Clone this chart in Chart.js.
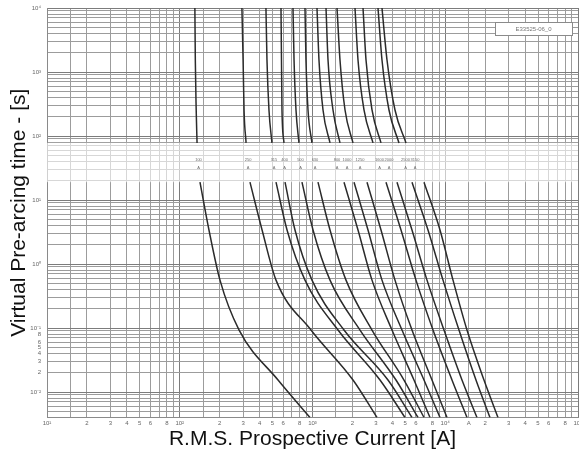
<!DOCTYPE html>
<html>
<head>
<meta charset="utf-8">
<title>Fuse time-current characteristics</title>
<script src="https://cdn.jsdelivr.net/npm/chart.js@4.4.1/dist/chart.umd.min.js"></script>
<style>
  html, body { margin: 0; padding: 0; background: #fff; }
  #wrap { width: 579px; height: 455px; }
</style>
</head>
<body>
<div id="wrap"><canvas id="chartForFuse" width="579" height="455"></canvas></div>
<script>
// times (s) at which each curve was read, above and below the label band
var timesUpper = [10000, 1540, 255, 78];
var timesLower = [19, 3.4, 0.56, 0.093, 0.0154, 0.004];

// prospective current (A) of each curve at those times
var curve01 = [130, 131, 133, 135, 142, 166, 201, 280, 550, 958];
var curve02 = [294, 300, 305, 316, 338, 417, 531, 974, 2019, 3061];
var curve03 = [446, 454, 470, 495, 531, 643, 878, 1557, 3225, 4976];
var curve04 = [579, 584, 589, 610, 621, 738, 991, 1727, 3704, 5617];
var curve05 = [713, 726, 751, 791, 833, 1009, 1355, 2280, 4256, 6235];
var curve06 = [878, 893, 925, 991, 1100, 1355, 1788, 2807, 4890, 6917];
var curve07 = [1081, 1119, 1200, 1355, 1727, 2202, 2807, 3970, 5815, 7676];
var curve08 = [1264, 1309, 1427, 1611, 2055, 2619, 3338, 4723, 6917, 9129];
var curve09 = [1530, 1611, 1758, 2019, 2574, 3281, 4182, 5617, 7947, 10310];
var curve10 = [2090, 2202, 2443, 2856, 3578, 4642, 6020, 8086, 11240, 14580];
var curve11 = [2402, 2530, 2807, 3281, 4330, 5617, 7287, 9785, 13370, 17340];
var curve12 = [3115, 3338, 3769, 4483, 5617, 7415, 9618, 12690, 17040, 21730];
var curve13 = [3338, 3641, 4182, 5063, 6917, 9129, 11440, 14580, 19580, 24970];

var curves = [curve01, curve02, curve03, curve04, curve05, curve06, curve07,
  curve08, curve09, curve10, curve11, curve12, curve13];
var ratings = ['100', '250', '315', '400', '500', '630', '800', '1000',
  '1250', '1600', '2000', '2500', '3150'];

// tick labels
var xLabelValues = [10, 20, 30, 40, 50, 60, 80, 100, 200, 300, 400, 500, 600, 800,
  1000, 2000, 3000, 4000, 5000, 6000, 8000, 10000, 15000, 20000, 30000, 40000,
  50000, 60000, 80000, 100000];
var xLabelTexts = ['10\u00b9', '2', '3', '4', '5', '6', '8', '10\u00b2', '2', '3', '4', '5', '6', '8',
  '10\u00b3', '2', '3', '4', '5', '6', '8', '10\u2074', 'A', '2', '3', '4',
  '5', '6', '8', '10\u2075'];
var yLabelValues = [10000, 1000, 100, 10, 1, 0.1, 0.08, 0.06, 0.05, 0.04, 0.03, 0.02, 0.01];
var yLabelTexts = ['10\u2074', '10\u00b3', '10\u00b2', '10\u00b9', '10\u2070', '10\u207b\u00b9',
  '8', '6', '5', '4', '3', '2', '10\u207b\u00b2'];

var xSteps = [1, 1.5, 2, 3, 4, 5, 6, 7, 8, 9];
var ySteps = [1, 2, 3, 4, 5, 6, 7, 8, 9];
var docNumber = 'E33525-06_0';

var xMin = 10, xMax = 100000, yMin = 0.004, yMax = 10000;

function gridValues(steps, min, max) {
  var out = [];
  for (var e = -4; e <= 5; e++) {
    for (var i = 0; i < steps.length; i++) {
      var v = e < 0 ? steps[i] / Math.pow(10, -e) : steps[i] * Math.pow(10, e);
      if (v >= min * 0.9999 && v <= max * 1.0001) out.push(v);
    }
  }
  return out;
}

function findLabel(values, texts, v) {
  for (var i = 0; i < values.length; i++) {
    if (Math.abs(values[i] - v) / v < 1e-6) return texts[i];
  }
  return '';
}

function isDecade(v) {
  var l = Math.log10(v);
  return Math.abs(l - Math.round(l)) < 1e-6;
}

var datasets = [];
for (var c = 0; c < curves.length; c++) {
  var pts = [];
  for (var i = 0; i < timesUpper.length; i++) {
    pts.push({ x: curves[c][i], y: timesUpper[i] });
  }
  // gap for the label band
  pts.push({ x: curves[c][timesUpper.length], y: null });
  for (var j = 0; j < timesLower.length; j++) {
    pts.push({ x: curves[c][timesUpper.length + j], y: timesLower[j] });
  }
  datasets.push({
    label: ratings[c],
    data: pts,
    borderColor: '#2b2b2b',
    borderWidth: 1.5,
    pointRadius: 0,
    fill: false,
    spanGaps: false,
    cubicInterpolationMode: 'monotone'
  });
}

var gridColor = function (ctx) {
  return ctx.tick && isDecade(ctx.tick.value) ? '#7c7c7c' : '#9c9c9c';
};

var bandPlugin = {
  id: 'band',
  beforeDatasetsDraw: function (chart) {
    var ctx = chart.ctx;
    var area = chart.chartArea;
    var top = chart.scales.y.getPixelForValue(timesUpper[timesUpper.length - 1]);
    var bottom = chart.scales.y.getPixelForValue(timesLower[0]);
    ctx.save();
    ctx.fillStyle = 'rgba(255,255,255,0.6)';
    ctx.fillRect(area.left, top, area.right - area.left, bottom - top);
    ctx.restore();
  },
  afterDatasetsDraw: function (chart) {
    var ctx = chart.ctx;
    var area = chart.chartArea;
    var xs = chart.scales.x;
    var ys = chart.scales.y;
    var n = timesUpper.length;

    // 繪製額定電流標籤
    ctx.save();
    ctx.fillStyle = '#6a6a6a';
    ctx.font = '4px "Liberation Sans", Arial, sans-serif';
    ctx.textAlign = 'center';
    ctx.textBaseline = 'middle';
    for (var c = 0; c < curves.length; c++) {
      var x = xs.getPixelForValue(Math.sqrt(curves[c][n - 1] * curves[c][n]));
      ctx.fillText(ratings[c], x, ys.getPixelForValue(42));
      ctx.fillText('A', x, ys.getPixelForValue(32));
    }

    // document number box
    var bw = 77, bh = 13;
    var bx = area.right - 83, by = area.top + 14;
    ctx.fillStyle = '#fff';
    ctx.fillRect(bx, by, bw, bh);
    ctx.strokeStyle = '#8a8a8a';
    ctx.lineWidth = 1;
    ctx.strokeRect(bx + 0.5, by + 0.5, bw, bh);
    ctx.fillStyle = '#777';
    ctx.font = '6px "Liberation Sans", Arial, sans-serif';
    ctx.fillText(docNumber, bx + bw / 2, by + bh / 2 + 0.5);
    ctx.restore();
  }
};

var ctx = document.getElementById('chartForFuse');
var chart = new Chart(ctx, {
  type: 'line',
  data: { datasets: datasets },
  plugins: [bandPlugin],
  options: {
    responsive: false,
    animation: false,
    devicePixelRatio: 1,
    layout: { padding: { top: 8, right: 1, left: 0, bottom: 0 } },
    plugins: {
      legend: { display: false },
      tooltip: { enabled: false }
    },
    scales: {
      x: {
        type: 'logarithmic',
        min: xMin,
        max: xMax,
        afterBuildTicks: function (scale) {
          scale.ticks = gridValues(xSteps, xMin, xMax).map(function (v) {
            return { value: v };
          });
        },
        afterFit: function (scale) {
          scale.height = 37.5;
          scale.paddingLeft = 0;
          scale.paddingRight = 0;
        },
        grid: { color: gridColor, lineWidth: 1, drawTicks: false },
        border: { color: '#8a8a8a' },
        ticks: {
          autoSkip: false,
          maxRotation: 0,
          padding: 2,
          color: '#666',
          font: { size: 6, family: '"Liberation Sans", Arial, sans-serif' },
          callback: function (value) {
            return findLabel(xLabelValues, xLabelTexts, value);
          }
        },
        title: {
          display: true,
          text: 'R.M.S. Prospective Current [A]',
          color: '#111',
          font: { size: 21, family: '"Liberation Sans", Arial, sans-serif' },
          padding: { top: 0, bottom: 3 }
        }
      },
      y: {
        type: 'logarithmic',
        min: yMin,
        max: yMax,
        afterBuildTicks: function (scale) {
          scale.ticks = gridValues(ySteps, yMin, yMax).map(function (v) {
            return { value: v };
          });
        },
        afterFit: function (scale) {
          scale.width = 47;
          scale.paddingTop = 0;
          scale.paddingBottom = 0;
        },
        grid: { color: gridColor, lineWidth: 1, drawTicks: false },
        border: { color: '#8a8a8a' },
        ticks: {
          autoSkip: false,
          padding: 6,
          color: '#666',
          font: { size: 6, family: '"Liberation Sans", Arial, sans-serif' },
          callback: function (value) {
            return findLabel(yLabelValues, yLabelTexts, value);
          }
        },
        title: {
          display: true,
          text: 'Virtual Pre-arcing time - [s]',
          color: '#111',
          font: { size: 21, family: '"Liberation Sans", Arial, sans-serif' },
          padding: { top: 7, bottom: 0 }
        }
      }
    }
  }
});
</script>
</body>
</html>
